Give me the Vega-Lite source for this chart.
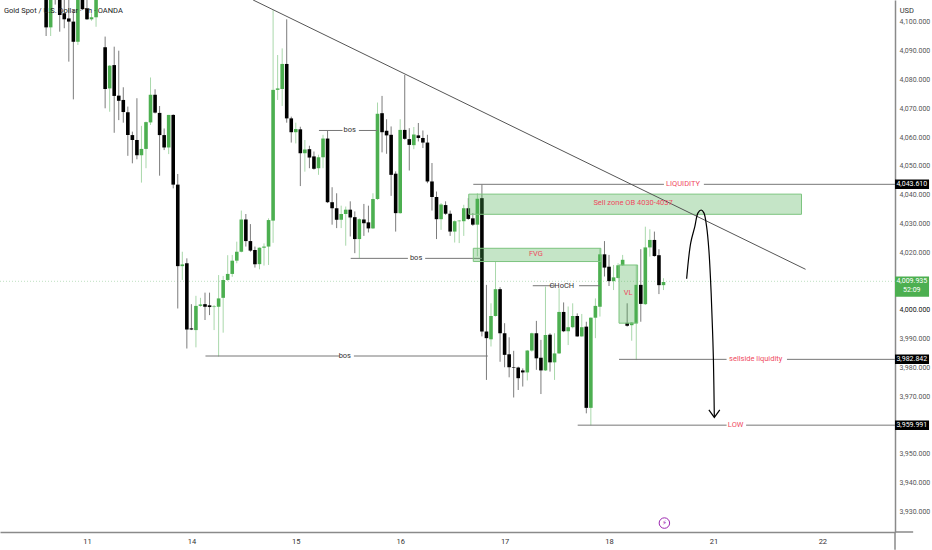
{
  "$schema": "https://vega.github.io/schema/vega-lite/v6.json",
  "width": 895,
  "height": 532,
  "autosize": {"type": "none"},
  "padding": {"left": 0, "top": 0, "right": 37, "bottom": 18},
  "background": "#ffffff",
  "config": {
    "view": {"stroke": null},
    "text": {"font": "Roboto", "fontSize": 7.5}
  },
  "datasets": {
    "candles": [
      {"t":-9,"o":4112,"h":4116,"l":4095.1,"c":4098.1},
      {"t":-8,"o":4098.1,"h":4114,"l":4095.1,"c":4110},
      {"t":-7,"o":4114,"h":4116,"l":4106,"c":4110},
      {"t":-6,"o":4112,"h":4115,"l":4096.6,"c":4102.4},
      {"t":-5,"o":4103,"h":4110,"l":4097.8,"c":4100.9},
      {"t":-4,"o":4101.2,"h":4107.6,"l":4086.2,"c":4100.1},
      {"t":-3,"o":4100.1,"h":4104.1,"l":4073.1,"c":4093.1},
      {"t":-2,"o":4093.1,"h":4115,"l":4092,"c":4112},
      {"t":-1,"o":4112,"h":4115,"l":4104.1,"c":4104.4},
      {"t":0,"o":4104.7,"h":4108,"l":4100.7,"c":4100.9},
      {"t":1,"o":4100.9,"h":4103,"l":4100.4,"c":4101.6},
      {"t":2,"o":4101.6,"h":4113,"l":4098.3,"c":4110},
      {"t":4,"o":4091.2,"h":4094.9,"l":4070,"c":4076.7},
      {"t":5,"o":4076.9,"h":4085,"l":4068.8,"c":4084.8},
      {"t":6,"o":4085,"h":4091.4,"l":4061.5,"c":4074.3},
      {"t":7,"o":4074.4,"h":4090,"l":4065.9,"c":4072.6},
      {"t":8,"o":4072.9,"h":4077.3,"l":4065,"c":4068.7},
      {"t":9,"o":4068.6,"h":4070.6,"l":4053.5,"c":4060.7},
      {"t":10,"o":4060.7,"h":4061.9,"l":4050.9,"c":4059},
      {"t":11,"o":4059,"h":4073.5,"l":4052.3,"c":4053.7},
      {"t":12,"o":4053.7,"h":4063.9,"l":4044.2,"c":4055.9},
      {"t":13,"o":4055.9,"h":4065.4,"l":4049.2,"c":4065.2},
      {"t":14,"o":4065.1,"h":4080.7,"l":4064.2,"c":4074.7},
      {"t":15,"o":4074.7,"h":4076.6,"l":4068.2,"c":4068.5},
      {"t":16,"o":4068.4,"h":4070.8,"l":4046.6,"c":4060.7},
      {"t":17,"o":4060.7,"h":4063,"l":4055.5,"c":4056.4},
      {"t":18,"o":4056.4,"h":4067.7,"l":4054.1,"c":4067.7},
      {"t":19,"o":4067.7,"h":4067.9,"l":4042.2,"c":4043.5},
      {"t":20,"o":4043.5,"h":4047.2,"l":4000.5,"c":4015.2},
      {"t":21,"o":4015.2,"h":4020.2,"l":4010.4,"c":4015.8},
      {"t":22,"o":4016.2,"h":4017.9,"l":3986.6,"c":3993.2},
      {"t":23,"o":3993.6,"h":4002,"l":3993,"c":3993.2},
      {"t":24,"o":3993,"h":4004.9,"l":3987,"c":4001.4},
      {"t":25,"o":4001.4,"h":4004.2,"l":4001.1,"c":4001.9},
      {"t":26,"o":4002,"h":4006,"l":3996.5,"c":4001.1},
      {"t":27,"o":4001.6,"h":4006,"l":3998.2,"c":4001},
      {"t":28,"o":4001,"h":4001.7,"l":3993,"c":4001.2},
      {"t":29,"o":4001.1,"h":4012.1,"l":3983.8,"c":4004},
      {"t":30,"o":4004.2,"h":4011.8,"l":3992.1,"c":4010.4},
      {"t":31,"o":4010.4,"h":4019,"l":4010.1,"c":4012.5},
      {"t":32,"o":4012.5,"h":4019.1,"l":4011.5,"c":4017.1},
      {"t":33,"o":4017.1,"h":4023.7,"l":4016.2,"c":4020.2},
      {"t":34,"o":4020.2,"h":4034.5,"l":4020,"c":4031.4},
      {"t":35,"o":4031.4,"h":4033.3,"l":4022,"c":4023.9},
      {"t":36,"o":4023.9,"h":4029.8,"l":4020.2,"c":4020.6},
      {"t":37,"o":4020.8,"h":4022,"l":4014.7,"c":4015.9},
      {"t":38,"o":4015.9,"h":4021.7,"l":4014.1,"c":4021.6},
      {"t":39,"o":4021.6,"h":4023.1,"l":4015.4,"c":4022},
      {"t":40,"o":4022,"h":4031.8,"l":4015.6,"c":4031.2},
      {"t":41,"o":4031,"h":4104.1,"l":4023.3,"c":4076.4},
      {"t":42,"o":4076.4,"h":4088.5,"l":4072.9,"c":4076.9},
      {"t":43,"o":4076.7,"h":4090.8,"l":4070.8,"c":4085.4},
      {"t":44,"o":4085.4,"h":4100.9,"l":4065,"c":4066.5},
      {"t":45,"o":4066.5,"h":4067.1,"l":4058.1,"c":4061.7},
      {"t":46,"o":4061.7,"h":4065,"l":4057.8,"c":4062.8},
      {"t":47,"o":4062.7,"h":4063.6,"l":4043,"c":4054.4},
      {"t":48,"o":4054.4,"h":4059,"l":4048,"c":4055.7},
      {"t":49,"o":4055.8,"h":4057,"l":4049.2,"c":4052.9},
      {"t":50,"o":4053.3,"h":4055,"l":4048.7,"c":4049},
      {"t":51,"o":4049.2,"h":4053.9,"l":4046.9,"c":4053},
      {"t":52,"o":4053,"h":4060.8,"l":4049.2,"c":4059.5},
      {"t":53,"o":4059.5,"h":4062.3,"l":4037.1,"c":4037.4},
      {"t":54,"o":4037.4,"h":4042.6,"l":4029.6,"c":4035.3},
      {"t":55,"o":4035.3,"h":4040.5,"l":4028.4,"c":4031.3},
      {"t":56,"o":4031.3,"h":4036.2,"l":4028.4,"c":4033.3},
      {"t":57,"o":4033.3,"h":4035.9,"l":4022.3,"c":4034.8},
      {"t":58,"o":4034.8,"h":4037.7,"l":4025.5,"c":4032.1},
      {"t":59,"o":4032.2,"h":4034.2,"l":4019.7,"c":4024.6},
      {"t":60,"o":4024.6,"h":4031.8,"l":4018,"c":4031.5},
      {"t":61,"o":4031.4,"h":4036.8,"l":4025.7,"c":4030.1},
      {"t":62,"o":4030.4,"h":4036.2,"l":4026.9,"c":4028.3},
      {"t":63,"o":4028.3,"h":4040.5,"l":4028.1,"c":4038.5},
      {"t":64,"o":4038.5,"h":4072,"l":4038.2,"c":4068.1},
      {"t":65,"o":4068.3,"h":4074.3,"l":4054.7,"c":4061.7},
      {"t":66,"o":4062.2,"h":4066.2,"l":4054.2,"c":4060.6},
      {"t":67,"o":4060.8,"h":4063.7,"l":4039.6,"c":4046.9},
      {"t":68,"o":4047.3,"h":4048.1,"l":4027.2,"c":4033.6},
      {"t":69,"o":4033.6,"h":4066.2,"l":4033.4,"c":4062.5},
      {"t":70,"o":4062.5,"h":4081.6,"l":4059.1,"c":4059.4},
      {"t":71,"o":4059.3,"h":4063.1,"l":4048.4,"c":4057.3},
      {"t":72,"o":4057.2,"h":4063.5,"l":4055.8,"c":4060.9},
      {"t":73,"o":4060.6,"h":4064.9,"l":4058.5,"c":4059.7},
      {"t":74,"o":4059.7,"h":4062.3,"l":4056.2,"c":4058.1},
      {"t":75,"o":4058.1,"h":4060.8,"l":4044,"c":4044.6},
      {"t":76,"o":4044.6,"h":4051,"l":4034.5,"c":4039.2},
      {"t":77,"o":4039.2,"h":4041.1,"l":4024.6,"c":4031.5},
      {"t":78,"o":4031.5,"h":4037.1,"l":4027.8,"c":4036.6},
      {"t":79,"o":4036.4,"h":4037.7,"l":4033,"c":4033.4},
      {"t":80,"o":4033.4,"h":4034.5,"l":4025.7,"c":4027.2},
      {"t":81,"o":4027.2,"h":4031.1,"l":4023.4,"c":4030.8},
      {"t":82,"o":4030.8,"h":4031.2,"l":4023.2,"c":4031},
      {"t":83,"o":4030.8,"h":4036.5,"l":4025.7,"c":4035.3},
      {"t":84,"o":4035.3,"h":4038.8,"l":4031.3,"c":4031.6},
      {"t":85,"o":4031.8,"h":4033.6,"l":4029.2,"c":4029.6},
      {"t":86,"o":4029.6,"h":4040.5,"l":4018.6,"c":4038.6},
      {"t":87,"o":4038.8,"h":4043.6,"l":3990.8,"c":3992.5},
      {"t":88,"o":3992.5,"h":4008.7,"l":3975.7,"c":3990.2},
      {"t":89,"o":3989.8,"h":4002.3,"l":3987.3,"c":3997.9},
      {"t":90,"o":3997.9,"h":4016.8,"l":3997.7,"c":4007.2},
      {"t":91,"o":4007.2,"h":4007.9,"l":3982,"c":3991.9},
      {"t":92,"o":3991.9,"h":3995.4,"l":3980.1,"c":3984.4},
      {"t":93,"o":3984.6,"h":3990.5,"l":3976.6,"c":3980.1},
      {"t":94,"o":3980.1,"h":3985.8,"l":3969.6,"c":3979.9},
      {"t":95,"o":3980,"h":3980.3,"l":3972.2,"c":3976.3},
      {"t":96,"o":3979,"h":3979.7,"l":3973.4,"c":3978.3},
      {"t":97,"o":3978.3,"h":3986.1,"l":3975.5,"c":3985.9},
      {"t":98,"o":3985.9,"h":3992.1,"l":3985.5,"c":3991.9},
      {"t":99,"o":3991.9,"h":3996.2,"l":3979.2,"c":3983.2},
      {"t":100,"o":3983.4,"h":3989.6,"l":3970.8,"c":3979},
      {"t":101,"o":3979,"h":4008.1,"l":3978.8,"c":3991.3},
      {"t":102,"o":3991.4,"h":3991.9,"l":3978.6,"c":3981.8},
      {"t":103,"o":3981.8,"h":3991.9,"l":3975.7,"c":3984.9},
      {"t":104,"o":3984.9,"h":4007.5,"l":3984.7,"c":3999.3},
      {"t":105,"o":3999.3,"h":4002.6,"l":3992.3,"c":3992.6},
      {"t":106,"o":3992.6,"h":4001.2,"l":3987.8,"c":3994},
      {"t":107,"o":3994,"h":4002.3,"l":3993.6,"c":3997.9},
      {"t":108,"o":3997.9,"h":3998.8,"l":3990.7,"c":3990.8},
      {"t":109,"o":3990.8,"h":3998.6,"l":3990.7,"c":3994},
      {"t":110,"o":3994.2,"h":3995.9,"l":3964.1,"c":3966},
      {"t":111,"o":3966,"h":3997.4,"l":3959.9,"c":3997.3},
      {"t":112,"o":3997.3,"h":4004,"l":3990.2,"c":4001.4},
      {"t":113,"o":4001.1,"h":4021.4,"l":3997.7,"c":4019.3},
      {"t":114,"o":4019.3,"h":4023.9,"l":4011.6,"c":4014.7},
      {"t":115,"o":4015,"h":4019.1,"l":4008.3,"c":4010},
      {"t":116,"o":4010,"h":4015.6,"l":4006.9,"c":4011.3},
      {"t":117,"o":4011.1,"h":4016.2,"l":4010.9,"c":4015.5},
      {"t":118,"o":4015.5,"h":4019.1,"l":4015.3,"c":4017.4},
      {"t":119,"o":3995.5,"h":4002.3,"l":3994.2,"c":3994.5},
      {"t":120,"o":3994.7,"h":3995.8,"l":3989.3,"c":3995.6},
      {"t":121,"o":3995.4,"h":4015.6,"l":3982.6,"c":4008.7},
      {"t":122,"o":4008.7,"h":4021.1,"l":3995.9,"c":4002.1},
      {"t":123,"o":4002,"h":4028.9,"l":4001.7,"c":4021.7},
      {"t":124,"o":4021.7,"h":4028,"l":4018.5,"c":4024.3},
      {"t":125,"o":4024.3,"h":4027.2,"l":4018.5,"c":4018.7},
      {"t":126,"o":4019,"h":4021.1,"l":4005.5,"c":4008.6},
      {"t":127,"o":4008.6,"h":4011,"l":4006.9,"c":4009.7}
    ],
    "levels": [
      {"t":51.1,"t2":56.3,"p":4062.3,"p2":4062.3},
      {"t":59.9,"t2":63.9,"p":4062.3,"p2":4062.3},
      {"t":58.1,"t2":70.7,"p":4017.9,"p2":4017.9},
      {"t":74.5,"t2":87,"p":4017.9,"p2":4017.9},
      {"t":26.1,"t2":55.7,"p":3984,"p2":3984},
      {"t":58.8,"t2":88.3,"p":3984,"p2":3984},
      {"t":98.2,"t2":103.1,"p":4008.4,"p2":4008.4},
      {"t":108.4,"t2":113,"p":4008.4,"p2":4008.4},
      {"t":85.1,"t2":127.1,"p":4043.61,"p2":4043.61},
      {"t":135.9,"t2":178,"p":4043.61,"p2":4043.61},
      {"t":117.2,"t2":140.9,"p":3982.842,"p2":3982.842},
      {"t":154.2,"t2":178,"p":3982.842,"p2":3982.842},
      {"t":108.1,"t2":140.9,"p":3959.991,"p2":3959.991},
      {"t":145.2,"t2":178,"p":3959.991,"p2":3959.991}
    ],
    "zones": [
      {"t":84.1,"t2":157.4,"p":4040.2,"p2":4033.2},
      {"t":85.1,"t2":113.2,"p":4021.4,"p2":4016.8},
      {"t":117.2,"t2":121.3,"p":4015.6,"p2":3995.4}
    ],
    "curve": [
      {"id":"trend","n":1,"t":36.6,"p":4107.6},
      {"id":"trend","n":2,"t":158.3,"p":4014.1}
    ],
    "arrow": [
      {"id":"path","n":1,"t":132.1,"p":4010.8},
      {"id":"path","n":2,"t":133,"p":4023.3},
      {"id":"path","n":3,"t":133.9,"p":4028.9},
      {"id":"path","n":4,"t":134.6,"p":4033.7},
      {"id":"path","n":5,"t":135.3,"p":4034.7},
      {"id":"path","n":6,"t":135.9,"p":4033.7},
      {"id":"path","n":7,"t":136.5,"p":4028.9},
      {"id":"path","n":8,"t":137,"p":4020.8},
      {"id":"path","n":9,"t":137.5,"p":4005.9},
      {"id":"path","n":10,"t":137.8,"p":3993.1},
      {"id":"path","n":11,"t":138,"p":3982.6},
      {"id":"path","n":12,"t":138.2,"p":3962.8}
    ],
    "head": [
      {"n":1,"t":137,"p":3965.3},
      {"n":2,"t":138.2,"p":3962.7},
      {"n":3,"t":139.4,"p":3965.3}
    ],
    "blackText": [
      {"t":57.9,"p":4062.3,"label":"bos"},
      {"t":72.5,"p":4017.9,"label":"bos"},
      {"t":56.8,"p":3984,"label":"bos"},
      {"t":104.6,"p":4008.4,"label":"CHoCH"}
    ],
    "redText": [
      {"t":120.3,"p":4037,"label":"Sell zone OB 4030-4037"},
      {"t":98.9,"p":4019.4,"label":"FVG"},
      {"t":119.2,"p":4005.9,"label":"VL"},
      {"t":131.3,"p":4043.61,"label":"LIQUIDITY"},
      {"t":147.3,"p":3982.842,"label":"sellside liquidity"},
      {"t":142.9,"p":3959.991,"label":"LOW"}
    ],
    "tags": [
      {"t":178,"t2":185.5,"p":4045.26,"p2":4041.96,"kind":"level"},
      {"t":178,"t2":185.5,"p":3984.5,"p2":3981.2,"kind":"level"},
      {"t":178,"t2":185.5,"p":3961.6,"p2":3958.3,"kind":"level"},
      {"t":178,"t2":185.5,"p":4011.6,"p2":4004.6,"kind":"last"}
    ],
    "tagText": [
      {"t":181.7,"p":4043.61,"label":"4,043.610"},
      {"t":181.7,"p":3982.842,"label":"3,982.842"},
      {"t":181.7,"p":3959.991,"label":"3,959.991"},
      {"t":181.7,"p":4009.9,"label":"4,009.935"},
      {"t":181.7,"p":4006.8,"label":"52:09"}
    ],
    "frame": [
      {"t":178,"t2":178,"p":3922.9,"p2":3916.7},
      {"t":178,"t2":182,"p":3922.9,"p2":3922.9}
    ]
  },
  "encoding": {
    "x": {
      "field": "t",
      "type": "quantitative",
      "scale": {"domain": [-19.16, 178], "nice": false, "zero": false, "padding": 0},
      "axis": {
        "title": null,
        "grid": false,
        "ticks": false,
        "values": [0, 23, 46, 69, 92, 115, 138, 162],
        "labelExpr": "{'0':'11','23':'14','46':'15','69':'16','92':'17','115':'18','138':'21','162':'22'}[datum.value]",
        "labelFont": "Roboto",
        "labelFontSize": 7.5,
        "labelColor": "#333333",
        "labelPadding": 5,
        "domainColor": "#8a8a8a",
        "domainWidth": 1.5
      }
    },
    "y": {
      "field": "p",
      "type": "quantitative",
      "scale": {"domain": [3922.9, 4107.6], "nice": false, "zero": false},
      "axis": {
        "title": null,
        "orient": "right",
        "grid": false,
        "ticks": false,
        "values": [3930, 3940, 3950, 3970, 3980, 3990, 4000, 4020, 4030, 4040, 4050, 4060, 4070, 4080, 4090, 4100],
        "format": ",.3f",
        "labelFont": "Roboto",
        "labelFontSize": 7,
        "labelColor": {"condition": {"test": "datum.value == 4000", "value": "#111111"}, "value": "#555555"},
        "labelOpacity": {"condition": {"test": "datum.value == 4100", "value": 0.35}, "value": 1},
        "labelPadding": 4,
        "domainColor": "#8a8a8a",
        "domainWidth": 1.5
      }
    }
  },
  "layer": [
    {
      "data": {"values": [{"t": -19.16, "t2": 178, "p": 4009.935, "p2": 4009.935}]},
      "mark": {"type": "rule", "color": "#bfe0c1", "strokeDash": [1, 2], "strokeWidth": 1},
      "encoding": {"x2": {"field": "t2"}, "y2": {"field": "p2"}}
    },
    {
      "data": {"name": "candles"},
      "transform": [{"calculate": "datum.l", "as": "p"}],
      "mark": {"type": "rule", "strokeWidth": 1, "clip": true},
      "encoding": {
        "y2": {"field": "h"},
        "color": {"condition": {"test": "datum.c >= datum.o", "value": "#a9d8ab"}, "value": "#7c7c7c"}
      }
    },
    {
      "data": {"name": "candles"},
      "transform": [{"calculate": "datum.o", "as": "p"}],
      "mark": {"type": "bar", "size": 3.6, "clip": true},
      "encoding": {
        "y2": {"field": "c"},
        "color": {"condition": {"test": "datum.c >= datum.o", "value": "#4caf50"}, "value": "#000000"}
      }
    },
    {
      "data": {"name": "levels"},
      "mark": {"type": "rule", "color": "#777777", "strokeWidth": 1},
      "encoding": {"x2": {"field": "t2"}, "y2": {"field": "p2"}}
    },
    {
      "data": {"name": "zones"},
      "mark": {"type": "rect", "fill": "#4caf50", "fillOpacity": 0.32, "stroke": "#7cc47f", "strokeWidth": 1},
      "encoding": {"x2": {"field": "t2"}, "y2": {"field": "p2"}}
    },
    {
      "data": {"name": "curve"},
      "mark": {"type": "line", "color": "#555555", "strokeWidth": 1, "clip": true},
      "encoding": {"order": {"field": "n"}}
    },
    {
      "data": {"name": "arrow"},
      "mark": {"type": "line", "color": "#000000", "strokeWidth": 1.2, "interpolate": "catmull-rom"},
      "encoding": {"order": {"field": "n"}}
    },
    {
      "data": {"name": "head"},
      "mark": {"type": "line", "color": "#000000", "strokeWidth": 1.2},
      "encoding": {"order": {"field": "n"}}
    },
    {
      "data": {"name": "blackText"},
      "mark": {"type": "text", "color": "#333333", "align": "center", "baseline": "middle"},
      "encoding": {"text": {"field": "label"}}
    },
    {
      "data": {"name": "redText"},
      "mark": {"type": "text", "color": "#ef4a60", "align": "center", "baseline": "middle", "fontSize": 7.5},
      "encoding": {"text": {"field": "label"}}
    },
    {
      "data": {"name": "frame"},
      "mark": {"type": "rule", "color": "#8a8a8a", "strokeWidth": 1.5},
      "encoding": {"x2": {"field": "t2"}, "y2": {"field": "p2"}}
    },
    {
      "data": {"name": "tags"},
      "mark": {"type": "rect"},
      "encoding": {
        "x2": {"field": "t2"},
        "y2": {"field": "p2"},
        "color": {"condition": {"test": "datum.kind == 'last'", "value": "#4caf50"}, "value": "#000000"}
      }
    },
    {
      "data": {"name": "tagText"},
      "mark": {"type": "text", "color": "#ffffff", "align": "center", "baseline": "middle", "fontSize": 7},
      "encoding": {"text": {"field": "label"}}
    },
    {
      "data": {"values": [{"t": -18.3, "p": 4103.8, "label": "Gold Spot / U.S. Dollar · 1h · OANDA"}]},
      "mark": {"type": "text", "color": "#222222", "align": "left", "baseline": "middle", "fontSize": 7.5},
      "encoding": {"text": {"field": "label"}}
    },
    {
      "data": {"values": [{"t": 180.6, "p": 4103.8, "label": "USD"}]},
      "mark": {"type": "text", "color": "#333333", "align": "center", "baseline": "middle", "fontSize": 7.5},
      "encoding": {"text": {"field": "label"}}
    },
    {
      "data": {"values": [{"t": 127.2, "p": 3926}]},
      "mark": {"type": "point", "shape": "circle", "size": 110, "fill": "#ffffff", "fillOpacity": 1, "stroke": "#9c27b0", "strokeWidth": 1}
    },
    {
      "data": {"values": [{"t": 127.2, "p": 3926, "label": "⚡"}]},
      "mark": {"type": "text", "color": "#9c27b0", "align": "center", "baseline": "middle", "font": "DejaVu Sans", "fontSize": 7},
      "encoding": {"text": {"field": "label"}}
    }
  ]
}
